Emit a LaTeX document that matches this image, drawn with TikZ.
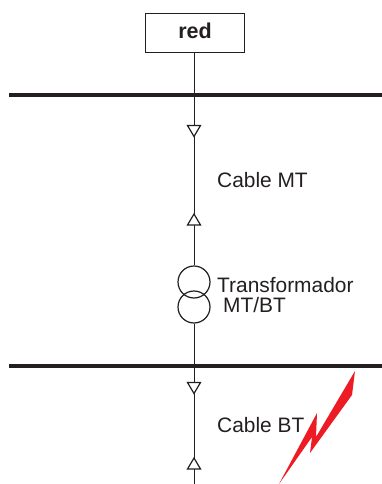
\documentclass[tikz,border=0pt]{standalone}
\usepackage{fontspec}
\setmainfont{Liberation Sans}
\definecolor{ink}{HTML}{231F20}
\definecolor{boltred}{HTML}{ED1C24}
\tikzset{
  wire/.style={draw=ink,line width=1pt},
  busbar/.style={draw=ink,line width=4.5pt},
  redbox/.style={draw=ink,line width=1.6pt,fill=white,minimum width=99pt,minimum height=39pt,inner sep=0pt,text=ink,text depth=5.5pt,font=\fontsize{21.5}{24}\selectfont\bfseries},
  coil/.style={circle,draw=ink,line width=1.2pt,minimum size=32pt,inner sep=0pt},
  lbl/.style={anchor=base west,inner sep=0pt,text=ink,font=\fontsize{20.9}{24}\selectfont},
  tri/.style={draw=ink,line width=1.2pt,fill=white,line join=miter}
}
\begin{document}
\begin{tikzpicture}[x=1pt,y=-1pt]
\useasboundingbox (0,0) rectangle (382,484);
\coordinate (bus1l) at (9,95);
\coordinate (bus1r) at (382,95);
\coordinate (bus2l) at (9,366);
\coordinate (bus2r) at (382,366);
\coordinate (end) at (194,484);
\node[redbox] (red) at (195,33) {red};
\node[coil] (t1) at (194,282) {};
\node[coil] (t2) at (194,307) {};
\draw[wire] (red.south -| t1) -- (t1.north);
\draw[wire] (t2.south) -- (end);
\draw[busbar] (bus1l) -- (bus1r);
\draw[busbar] (bus2l) -- (bus2r);
\draw[tri] (187.5,125.5) -- (200.5,125.5) -- (194,136.5) -- cycle;
\draw[tri] (187.5,225) -- (200.5,225) -- (194,214) -- cycle;
\draw[tri] (187.5,382.5) -- (200.5,382.5) -- (194,393.5) -- cycle;
\draw[tri] (187.5,469) -- (200.5,469) -- (194,458) -- cycle;
\node[lbl] (cablemt) at (217,187) {Cable MT};
\node[lbl] (trafo) at (217,292) {Transformador};
\node[lbl] (mtbt) at (223,312) {MT/BT};
\node[lbl] (cablebt) at (217,432) {Cable BT};
\fill[boltred] (279,484) -- (317,413) -- (316,437) -- (355,371) -- (352,395) -- (310,453) -- (312,437) -- cycle;
\end{tikzpicture}
\end{document}
